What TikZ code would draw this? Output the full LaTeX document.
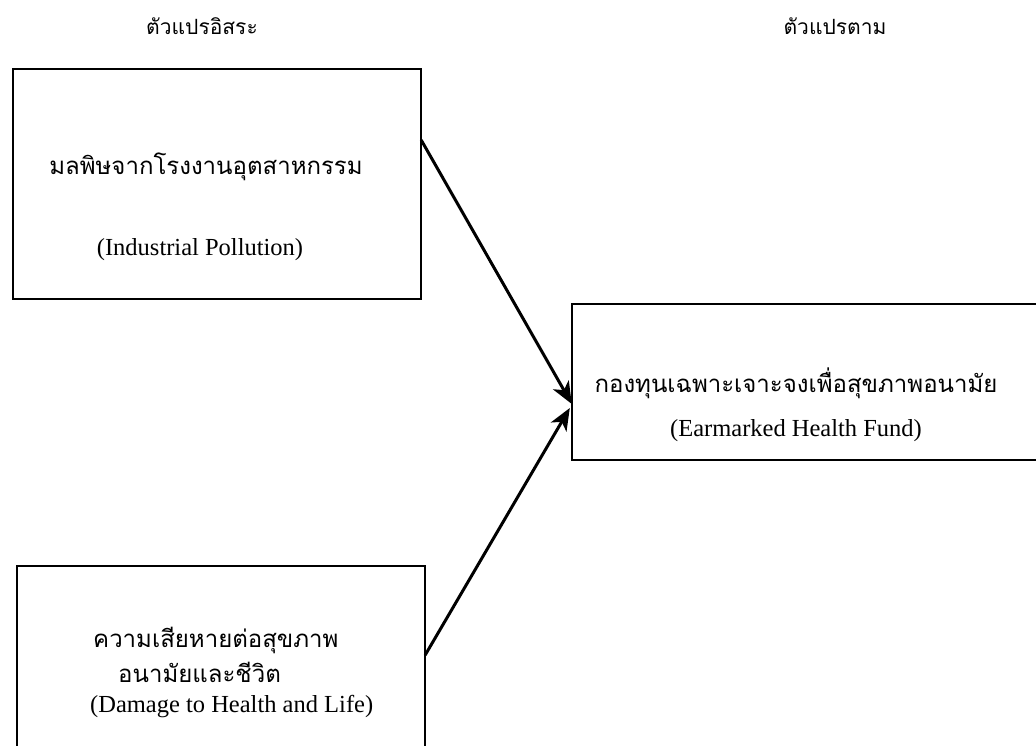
\documentclass[tikz,border=0pt]{standalone}
\usepackage{fontspec}
\setmainfont{Liberation Serif}
\newfontfamily\thai[Script=Thai]{Loma}
\usetikzlibrary{arrows.meta}
\tikzset{
  box/.style={draw=black, line width=2pt, fill=none},
  headtxt/.style={font=\thai\fontsize{21}{24}\selectfont, inner sep=0pt},
  thaitxt/.style={font=\thai\fontsize{24}{28}\selectfont, inner sep=0pt},
  engtxt/.style={font=\fontsize{24.5}{28}\selectfont, inner sep=0pt},
  arr/.style={line width=3pt, -{Stealth[length=22pt,width=18pt,inset=6pt]}}
}
\begin{document}
\begin{tikzpicture}[x=1pt,y=-1pt]
\useasboundingbox (0,0) rectangle (1036,745);
\clip (0,0) rectangle (1036,745);
% headers
\node[headtxt] (h1) at (202,26) {ตัวแปรอิสระ};
\node[headtxt] (h2) at (835,26) {ตัวแปรตาม};
% boxes
\draw[box] (13,69) rectangle (421,299);
\node[inner sep=0pt, minimum width=408pt, minimum height=230pt] (b1) at (217,184) {};
\draw[box] (17,566) rectangle (425,780);
\node[inner sep=0pt, minimum width=408pt, minimum height=214pt] (b2) at (221,673) {};
\draw[box] (572,304) rectangle (1050,460);
\node[inner sep=0pt, minimum width=478pt, minimum height=156pt] (b3) at (811,382) {};
% texts
\node[thaitxt] (t1) at (206,167) {มลพิษจากโรงงานอุตสาหกรรม};
\node[engtxt] (e1) at (200,250) {(Industrial Pollution)};
\node[thaitxt, anchor=west] (t2a) at (93,640) {ความเสียหายต่อสุขภาพ};
\node[thaitxt, anchor=west] (t2b) at (118,672) {อนามัยและชีวิต};
\node[engtxt, anchor=west] (e2) at (90,707) {(Damage to Health and Life)};
\node[thaitxt] (t3) at (796,383) {กองทุนเฉพาะเจาะจงเพื่อสุขภาพอนามัย};
\node[engtxt] (e3) at (796,431) {(Earmarked Health Fund)};
% connectors
\coordinate (s1) at (b1.east |- 0,140);
\coordinate (s2) at (b2.east |- 0,655);
\coordinate (p1) at (b3.west |- 0,404);
\coordinate (p2) at ([xshift=-2pt]b3.west |- 0,408);
\draw[arr] (s1) -- (p1);
\draw[arr] (s2) -- (p2);
\end{tikzpicture}
\end{document}
